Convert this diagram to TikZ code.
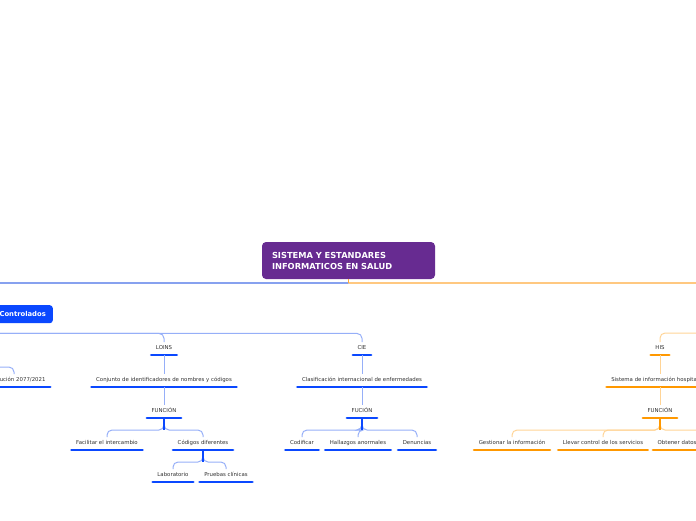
\documentclass[tikz,border=0pt]{standalone}
\usepackage{fontspec}
\setmainfont{DejaVu Sans}
\definecolor{purp}{RGB}{103,43,145}
\definecolor{bdark}{RGB}{10,72,255}
\definecolor{blight}{RGB}{150,175,248}
\definecolor{bmain}{RGB}{70,110,230}
\definecolor{odark}{RGB}{255,152,0}
\definecolor{olight}{RGB}{255,212,150}
\definecolor{omain}{RGB}{255,170,60}
\definecolor{txt}{RGB}{50,50,50}
\begin{document}
\begin{tikzpicture}[x=1pt,y=-1pt,
  every node/.style={inner sep=0pt},
  small/.style={font=\fontsize{5.4}{6}\selectfont, text=txt, inner xsep=4.5pt, inner ysep=3.8pt,
    text height=3.9pt, text depth=1.1pt, anchor=south},
  tb/.style={small, append after command={(\tikzlastnode.south west) edge[line width=2.8pt, line cap=round, draw=bdark] (\tikzlastnode.south east)}},
  to/.style={small, append after command={(\tikzlastnode.south west) edge[line width=2.8pt, line cap=round, draw=odark] (\tikzlastnode.south east)}},
  conb/.style={draw=blight, line width=1pt, rounded corners=5pt},
  cono/.style={draw=olight, line width=1pt, rounded corners=5pt},
  stubb/.style={draw=bdark, line width=1.1pt},
  stubo/.style={draw=odark, line width=1.1pt},
  central/.style={fill=purp, rounded corners=4pt, text=white, font=\fontsize{8.3}{11}\selectfont\bfseries,
    minimum width=173pt, minimum height=37pt, text width=153pt, align=left, inner xsep=10pt},
  lvl1/.style={fill=bdark, rounded corners=3pt, text=white, font=\fontsize{6.8}{8}\selectfont\bfseries,
    minimum height=18pt, inner xsep=7pt}
]
\useasboundingbox (0,0) rectangle (696,520);
\clip (0,0) rectangle (696,520);

% central
\node[central] (root) at (348.5,260.5) {SISTEMA Y ESTANDARES\\INFORMATICOS EN SALUD};
\node[lvl1, anchor=north east, text width=110pt, align=right] (ctrl) at (53,305) {Controlados};
\coordinate (mainj) at (348.5,283);
\coordinate (opar) at (760,305);

\draw[draw=bmain, line width=1.2pt, rounded corners=5pt] (mainj) -| (ctrl.north);
\draw[draw=omain, line width=1.2pt, rounded corners=5pt] (mainj) -| (opar);
\draw[draw=omain, line width=1pt] (root.south) -- (mainj);

% blue branch nodes
\node[tb] (loins) at (164,355) {LOINS};
\node[tb] (conj) at (164,387) {Conjunto de identificadores de nombres y códigos};
\node[tb] (func1) at (164,418) {FUNCIÓN};
\node[tb] (facil) at (107,450) {Facilitar el intercambio};
\node[tb] (codig) at (203,450) {Códigos diferentes};
\node[tb] (labo) at (173,482) {Laboratorio};
\node[tb] (prueb) at (226,482) {Pruebas clínicas};

\node[tb] (cie) at (362,355) {CIE};
\node[tb] (clasif) at (362,387) {Clasificación internacional de enfermedades};
\node[tb] (fucion) at (362,418) {FUCIÓN};
\node[tb] (codif) at (302,450) {Codificar};
\node[tb] (halla) at (358,450) {Hallazgos anormales};
\node[tb] (denun) at (417,450) {Denuncias};

\node[tb, text width=63pt, align=right] (res) at (14,387) {ución 2077/2021};
\coordinate (rpar) at (-60,355);

% orange
\node[to] (his) at (660,355) {HIS};
\node[to] (sist) at (660,387) {Sistema de información hospitalaria};
\node[to] (func2) at (660,418) {FUNCIÓN};
\node[to] (gest) at (512,450) {Gestionar la información};
\node[to] (llev) at (603,450) {Llevar control de los servicios};
\node[to, anchor=south west, text width=90pt, align=left] (obt) at (653,450) {Obtener datos};

% blue connectors
\draw[conb] (ctrl.south) -- ++(0,10) -| (loins.north);
\draw[conb] (ctrl.south) -- ++(0,10) -| (cie.north);
\draw[conb] (rpar) -- ++(0,12) -| (res.north);
\draw[conb] (loins.south) -- (conj.north);
\draw[conb] (conj.south) -- (func1.north);
\draw[conb] (func1.south) -- ++(0,12) -| (facil.north);
\draw[conb] (func1.south) -- ++(0,12) -| (codig.north);
\draw[stubb] (func1.south) -- ++(0,12);
\draw[conb] (codig.south) -- ++(0,12) -| (labo.north);
\draw[conb] (codig.south) -- ++(0,12) -| (prueb.north);
\draw[stubb] (codig.south) -- ++(0,12);
\draw[conb] (cie.south) -- (clasif.north);
\draw[conb] (clasif.south) -- (fucion.north);
\draw[conb] (fucion.south) -- ++(0,12) -| (codif.north);
\draw[conb] (fucion.south) -- ++(0,12) -| (halla.north);
\draw[conb] (fucion.south) -- ++(0,12) -| (denun.north);
\draw[stubb] (fucion.south) -- ++(0,12);

% orange connectors
\draw[cono] (opar) -- ++(0,28) -| (his.north);
\draw[cono] (his.south) -- (sist.north);
\draw[cono] (sist.south) -- (func2.north);
\draw[cono] (func2.south) -- ++(0,12) -| (gest.north);
\draw[cono] (func2.south) -- ++(0,12) -| (llev.north);
\draw[cono] (func2.south) -- ++(0,12) -| (obt.north);
\draw[stubo] (func2.south) -- ++(0,12);
\end{tikzpicture}
\end{document}
